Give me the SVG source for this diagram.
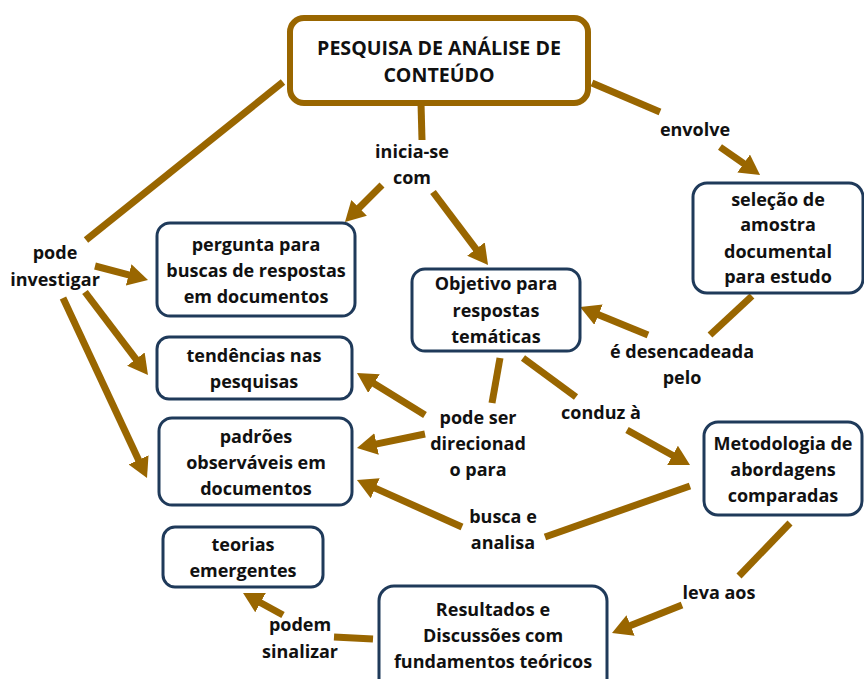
<svg xmlns="http://www.w3.org/2000/svg" width="864" height="679" viewBox="0 0 864 679">
<style>
text{font-family:"Open Sans","Liberation Sans",sans-serif;font-weight:bold;font-size:18px;fill:#111;text-anchor:middle}
.t{font-size:19.6px}
.n{fill:#fff;stroke:#1F3A5A;stroke-width:3}
.m{fill:#fff;stroke:#996600;stroke-width:6}
.c{stroke:#996600;stroke-width:7;fill:none}
.a{marker-end:url(#ah)}
</style>
<defs>
<marker id="ah" viewBox="0 0 20 22" markerWidth="20" markerHeight="22" markerUnits="userSpaceOnUse" refX="2" refY="11" orient="auto">
<path d="M0,0 L20,11 L0,22 z" fill="#996600"/>
</marker>
</defs>
<g id="connectors">
<line class="c" x1="283" y1="82" x2="86" y2="240"/>
<line class="c a" x1="95" y1="266" x2="130.6" y2="275.4"/>
<line class="c a" x1="85" y1="292" x2="137.1" y2="360.7"/>
<line class="c a" x1="63" y1="298" x2="139.4" y2="461.7"/>
<line class="c" x1="421" y1="103" x2="422" y2="140"/>
<line class="c a" x1="382" y1="185" x2="357.7" y2="209.3"/>
<line class="c a" x1="433" y1="192" x2="477.2" y2="250.6"/>
<line class="c" x1="592" y1="83" x2="660" y2="112"/>
<line class="c a" x1="720" y1="147" x2="745.3" y2="164.7"/>
<line class="c" x1="752" y1="296" x2="710" y2="335"/>
<line class="c a" x1="648" y1="335" x2="596.7" y2="313.9"/>
<line class="c" x1="500" y1="358" x2="492" y2="403"/>
<line class="c" x1="523" y1="358" x2="576" y2="397"/>
<line class="c a" x1="627" y1="430" x2="674.3" y2="456.3"/>
<line class="c a" x1="425" y1="415" x2="372.3" y2="382.5"/>
<line class="c a" x1="425" y1="434" x2="374.6" y2="444.4"/>
<line class="c a" x1="462" y1="527" x2="373.4" y2="487.4"/>
<line class="c" x1="690" y1="486" x2="545" y2="537"/>
<line class="c" x1="790" y1="523" x2="739" y2="576"/>
<line class="c a" x1="682" y1="605" x2="628.7" y2="626.3"/>
<line class="c" x1="373" y1="639" x2="334" y2="637"/>
<line class="c a" x1="283" y1="615" x2="258.8" y2="601.7"/>
</g>
<g id="main">
<rect class="m" x="290" y="18" width="298" height="85" rx="14"/>
<text class="t" x="439" y="55">PESQUISA DE ANÁLISE DE</text>
<text class="t" x="439" y="82">CONTEÚDO</text>
</g>
<g id="pergunta">
<rect class="n" x="157" y="223" width="198" height="93" rx="13"/>
<text x="256" y="251">pergunta para</text>
<text x="256" y="277">buscas de respostas</text>
<text x="256" y="303">em documentos</text>
</g>
<g id="objetivo">
<rect class="n" x="412" y="269" width="168" height="82" rx="13"/>
<text x="496" y="290">Objetivo para</text>
<text x="496" y="317">respostas</text>
<text x="496" y="343">temáticas</text>
</g>
<g id="selecao">
<rect class="n" x="693" y="183" width="170" height="110" rx="14"/>
<text x="778" y="206">seleção de</text>
<text x="778" y="231">amostra</text>
<text x="778" y="258">documental</text>
<text x="778" y="283">para estudo</text>
</g>
<g id="tendencias">
<rect class="n" x="157" y="337" width="195" height="62" rx="12"/>
<text x="254" y="362">tendências nas</text>
<text x="254" y="388">pesquisas</text>
</g>
<g id="padroes">
<rect class="n" x="159" y="418" width="193" height="87" rx="13"/>
<text x="256" y="443">padrões</text>
<text x="256" y="469">observáveis em</text>
<text x="256" y="495">documentos</text>
</g>
<g id="metodologia">
<rect class="n" x="704" y="422" width="158" height="93" rx="14"/>
<text x="783" y="450">Metodologia de</text>
<text x="783" y="476">abordagens</text>
<text x="783" y="502">comparadas</text>
</g>
<g id="teorias">
<rect class="n" x="163" y="527" width="160" height="60" rx="12"/>
<text x="243" y="551">teorias</text>
<text x="243" y="577">emergentes</text>
</g>
<g id="resultados">
<rect class="n" x="379" y="586" width="228" height="110" rx="15"/>
<text x="493" y="616">Resultados e</text>
<text x="493" y="642">Discussões com</text>
<text x="493" y="668">fundamentos teóricos</text>
</g>
<g id="labels">
<text x="55" y="259">pode</text>
<text x="55" y="286">investigar</text>
<text x="412" y="158">inicia-se</text>
<text x="412" y="184">com</text>
<text x="695" y="136">envolve</text>
<text x="682" y="358">é desencadeada</text>
<text x="682" y="384">pelo</text>
<text x="478" y="424">pode ser</text>
<text x="478" y="450">direcionad</text>
<text x="478" y="476">o para</text>
<text x="601" y="419">conduz à</text>
<text x="503" y="523">busca e</text>
<text x="503" y="549">analisa</text>
<text x="719" y="599">leva aos</text>
<text x="300" y="631">podem</text>
<text x="300" y="658">sinalizar</text>
</g>
</svg>
